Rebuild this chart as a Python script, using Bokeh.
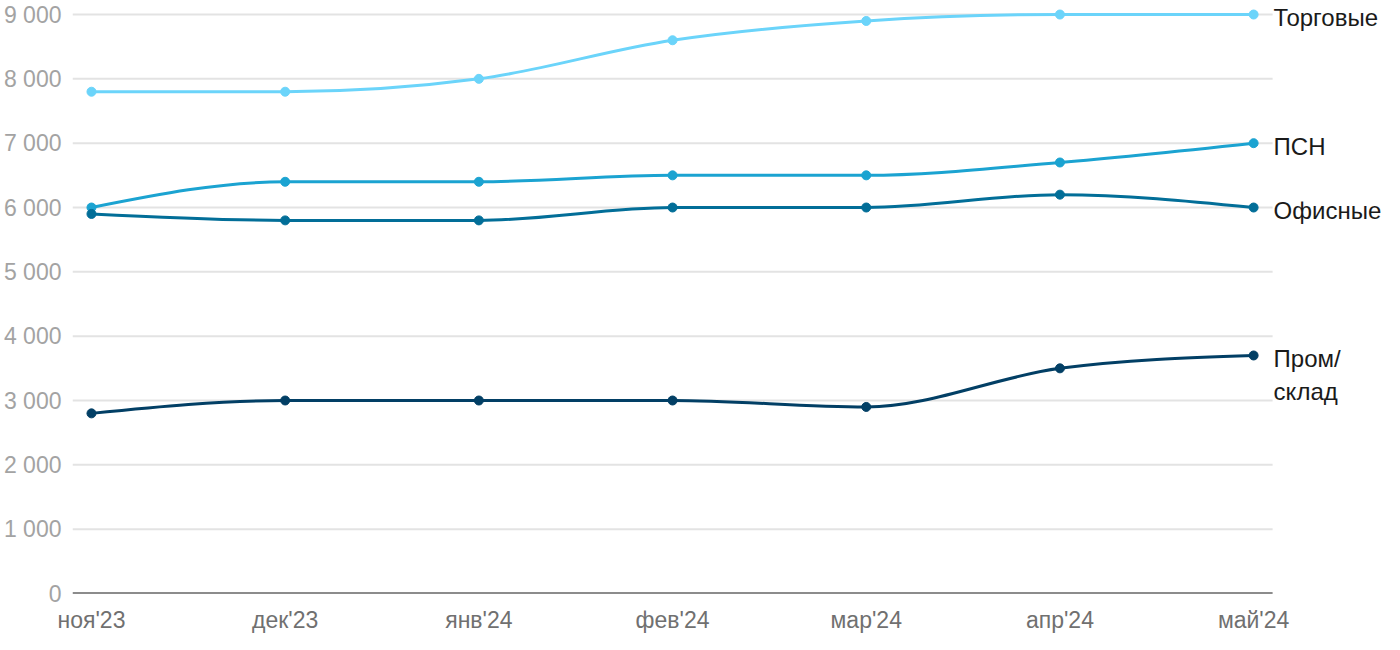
import numpy as np
from bokeh.plotting import figure
from bokeh.models import FixedTicker, Range1d
from bokeh.core.properties import value
from bokeh.embed import file_html
from bokeh.resources import INLINE

months = ["ноя'23", "дек'23", "янв'24", "фев'24", "мар'24", "апр'24", "май'24"]
trade = [7800, 7800, 8000, 8600, 8900, 9000, 9000]
psn = [6000, 6400, 6400, 6500, 6500, 6700, 7000]
office = [5900, 5800, 5800, 6000, 6000, 6200, 6000]
industrial = [2800, 3000, 3000, 3000, 2900, 3500, 3700]
y_ticks = [0, 1000, 2000, 3000, 4000, 5000, 6000, 7000, 8000, 9000]

series = [
    ("Торговые", trade, "#6bd4fa"),
    ("ПСН", psn, "#1ba3d1"),
    ("Офисные", office, "#026e98"),
    ("Пром/\nсклад", industrial, "#023f65"),
]

FONT = "Liberation Sans"


def monotone_controls(xs, ys):
    xs = np.asarray(xs, float)
    ys = np.asarray(ys, float)
    n = len(xs)
    t = np.zeros(n)
    for i in range(1, n - 1):
        h0 = xs[i] - xs[i - 1]
        h1 = xs[i + 1] - xs[i]
        s0 = (ys[i] - ys[i - 1]) / h0
        s1 = (ys[i + 1] - ys[i]) / h1
        p = (s0 * h1 + s1 * h0) / (h0 + h1)
        t[i] = (np.sign(s0) + np.sign(s1)) * min(abs(s0), abs(s1), 0.5 * abs(p))
    h = xs[1] - xs[0]
    t[0] = (3 * (ys[1] - ys[0]) / h - t[1]) / 2
    h = xs[-1] - xs[-2]
    t[-1] = (3 * (ys[-1] - ys[-2]) / h - t[-2]) / 2
    x0, x1 = xs[:-1], xs[1:]
    y0, y1 = ys[:-1], ys[1:]
    dx = (x1 - x0) / 3
    cx0 = x0 + dx
    cy0 = y0 + dx * t[:-1]
    cx1 = x1 - dx
    cy1 = y1 - dx * t[1:]
    return x0, y0, x1, y1, cx0, cy0, cx1, cy1


x = list(range(len(months)))
pad = 0.098
x_lo, x_hi = x[0] - pad, x[-1] + pad

p = figure(width=1392, height=642, output_backend="svg", toolbar_location=None,
           x_range=Range1d(x_lo, 6.717), y_range=Range1d(0, 9218),
           min_border_left=72, min_border_right=0, min_border_top=0, min_border_bottom=49)
p.outline_line_color = None
p.background_fill_color = "white"
p.xgrid.grid_line_color = None
p.ygrid.grid_line_color = None

# horizontal grid lines limited to the data area
p.segment(x0=[x_lo] * (len(y_ticks) - 1), x1=[x_hi] * (len(y_ticks) - 1),
          y0=y_ticks[1:], y1=y_ticks[1:], line_color="#e3e3e3", line_width=2)
# baseline
p.segment(x0=[x_lo], x1=[x_hi], y0=[0], y1=[0], line_color="#1a1a1a", line_width=2)

for ax in (p.xaxis[0], p.yaxis[0]):
    ax.axis_line_color = None
    ax.major_tick_line_color = None
    ax.minor_tick_line_color = None
    ax.major_tick_out = 0
    ax.major_tick_in = 0
    ax.minor_tick_out = 0
    ax.minor_tick_in = 0
    ax.major_label_text_font = FONT

p.yaxis.ticker = FixedTicker(ticks=y_ticks)
p.yaxis.major_label_overrides = {v: (f"{v:,}".replace(",", " ")) for v in y_ticks}
p.yaxis.major_label_text_font_size = "23px"
p.yaxis.major_label_text_color = "#a3a3a3"
p.yaxis.major_label_standoff = 11

p.xaxis.ticker = FixedTicker(ticks=x)
p.xaxis.major_label_overrides = {i: m for i, m in enumerate(months)}
p.xaxis.major_label_text_font_size = "23px"
p.xaxis.major_label_text_color = "#707070"
p.xaxis.major_label_standoff = 13

for name, vals, color in series:
    x0, y0, x1, y1, cx0, cy0, cx1, cy1 = monotone_controls(x, vals)
    p.bezier(x0=x0, y0=y0, x1=x1, y1=y1, cx0=cx0, cy0=cy0, cx1=cx1, cy1=cy1,
             line_color=color, line_width=3)
    p.scatter(x, vals, size=9, fill_color=color, line_color=color)
    if "\n" in name:
        p.text(x=[x[-1]], y=[vals[-1]], text=[name], x_offset=20, y_offset=-10,
               text_baseline="top", text_font=value(FONT), text_font_size="24px",
               text_color="#1a1a1a", text_line_height=1.2)
    else:
        p.text(x=[x[-1]], y=[vals[-1]], text=[name], x_offset=20, y_offset=3,
               text_baseline="middle", text_font=value(FONT), text_font_size="24px",
               text_color="#1a1a1a")

open("out.html", "w").write(file_html(p, INLINE))
